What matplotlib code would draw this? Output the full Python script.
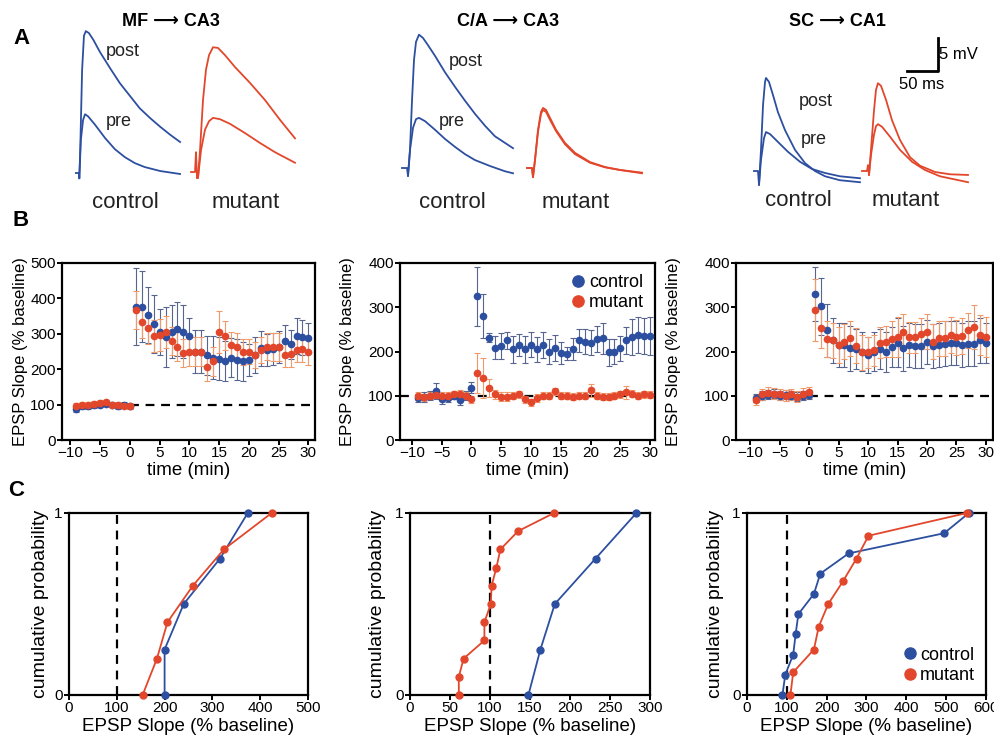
import matplotlib
matplotlib.use("Agg")
import matplotlib.pyplot as plt
import numpy as np

plt.rcParams['font.family'] = ['Liberation Sans', 'DejaVu Sans']

W, H = 995, 742
BLUE = '#2d4fa0'
RED = '#e2472c'
BLUE_ERR = '#56648f'
RED_ERR = '#f09a6a'

# ---- A: example traces (time in ms from stimulus, voltage in mV from baseline) ----
mf_ctrl_post_t = [-5, 0, 0.5, 2, 5, 8, 11, 16, 23, 34, 50, 66, 82, 98, 115, 131, 147, 163]
mf_ctrl_post_v = [0, 0, -0.8, 3.5, 15.6, 20.8, 21.5, 21.2, 20.2, 18.3, 15.9, 13.6, 11.7, 9.8, 8.3, 7.0, 5.8, 4.7]
mf_ctrl_pre_t = [0.5, 3, 6.5, 9.7, 14.5, 26, 42, 58, 74, 90, 106, 131, 163]
mf_ctrl_pre_v = [-0.8, 5.0, 8.0, 8.9, 8.6, 7.3, 5.3, 3.6, 2.4, 1.5, 0.9, 0.3, -0.15]
mf_mut_post_t = [-8, -1.6, 0, 1.6, 3.2, 6.5, 11.3, 16.1, 21, 27.4, 35.5, 46.8, 62.9, 87.1, 111.3, 135.5, 159.7]
mf_mut_post_v = [0, 0, 3.0, -0.9, -0.9, 3.3, 10.9, 15.5, 17.7, 18.9, 18.8, 17.7, 15.9, 13.5, 10.9, 7.9, 5.1]
mf_mut_pre_t = [1.6, 3.2, 8.1, 14.5, 21, 27.4, 38.7, 54.8, 79, 103.2, 127.4, 159.7]
mf_mut_pre_v = [-0.9, -0.9, 3.3, 6.4, 7.7, 8.2, 8.0, 7.3, 5.9, 4.4, 3.0, 1.4]

ca_ctrl_post_t = [-9.7, -1.6, 0, 3.2, 6.5, 9.7, 12.9, 17.7, 24.2, 32.3, 43.5, 59.7, 75.8, 91.9, 108.1, 124.2, 140.3, 156.5, 169.4]
ca_ctrl_post_v = [0, 0, -1.2, 2.7, 10.3, 16.4, 19.1, 20.2, 19.7, 18.6, 17.0, 14.5, 12.3, 10.2, 8.2, 6.4, 4.8, 3.8, 3.0]
ca_ctrl_pre_t = [0, 3.2, 8.1, 12.9, 17.7, 27.4, 43.5, 59.7, 75.8, 91.9, 108.1, 132.3, 156.5, 169.4]
ca_ctrl_pre_v = [-1.2, 2.7, 6.1, 7.4, 7.6, 7.1, 5.8, 4.4, 3.2, 2.1, 1.2, 0.3, -0.5, -0.8]
ca_mut_t = [-9.7, -1.6, 0, 3.2, 8.1, 12.9, 16.1, 21, 27.4, 37.1, 51.6, 67.7, 91.9, 116.1, 140.3, 175.8]
ca_mut_post_v = [0, 0, -1.4, 1.2, 5.8, 8.5, 9.1, 8.8, 7.6, 5.8, 3.8, 2.3, 0.9, 0.15, -0.3, -0.8]
ca_mut_pre_v = [0, 0, -1.4, 1.2, 5.5, 8.2, 8.8, 8.5, 7.3, 5.6, 3.6, 2.1, 0.8, 0.1, -0.3, -0.7]

sc_ctrl_post_t = [-8.1, -1.6, 0, 3.2, 6.5, 9.7, 11.3, 16.1, 22.6, 30.6, 41.9, 58.1, 74.2, 90.3, 106.5, 130.6, 162.9]
sc_ctrl_post_v = [0, 0, -2.1, 3.2, 10.0, 13.5, 14.1, 13.5, 11.5, 8.9, 6.2, 3.2, 1.2, 0, -0.8, -1.4, -1.7]
sc_ctrl_pre_t = [0, 3.2, 8.1, 11.3, 17.7, 30.6, 46.8, 66.1, 85.5, 106.5, 130.6, 162.9]
sc_ctrl_pre_v = [-2.1, 1.7, 5.0, 5.9, 5.6, 4.4, 2.9, 1.4, 0.3, -0.3, -0.8, -1.1]
sc_mut_post_t = [-9.7, -1.6, 0, 1.6, 4.8, 9.7, 12.9, 16.1, 21, 29, 38.7, 51.6, 67.7, 83.9, 108.1, 132.3, 161.3]
sc_mut_post_v = [0, 0, 0.9, -0.6, 3.2, 9.2, 12.3, 13.3, 12.9, 10.8, 7.7, 4.7, 2.1, 0.8, -0.15, -0.5, -0.6]
sc_mut_pre_t = [1.6, 4.8, 9.7, 12.9, 16.1, 22.6, 35.5, 51.6, 71, 91.9, 116.1, 161.3]
sc_mut_pre_v = [-0.6, 2.4, 5.5, 6.8, 7.1, 6.7, 5.2, 3.2, 1.4, 0.15, -0.8, -1.7]

# ---- B: time course (% baseline) ----
time_min = list(range(-9, 31))
b1_ctrl = [87, 95, 95, 98, 100, 103, 100, 96, 100, 95,
           377, 377, 353, 328, 306, 290, 306, 314, 306, 294, 250, 250, 240, 233, 230,
           223, 232, 227, 222, 227, 240, 259, 255, 258, 262, 280, 270, 294, 290, 288]
b1_ctrl_sem = [8] * 10 + [110, 100, 80, 83, 65, 85, 75, 76, 74, 50, 60, 60, 55, 62, 60,
                          57, 55, 58, 55, 45, 50, 50, 45, 45, 45, 45, 40, 51, 50, 42]
b1_mut = [97, 98, 100, 101, 104, 106, 100, 98, 97, 96,
          367, 334, 315, 294, 297, 305, 280, 264, 245, 250, 250, 250, 207, 222, 306,
          295, 268, 263, 248, 250, 240, 254, 263, 263, 263, 241, 242, 255, 256, 248]
b1_mut_sem = [8] * 10 + [53, 46, 45, 46, 45, 45, 40, 40, 40, 40, 40, 40, 40, 40, 59,
                         40, 38, 38, 36, 36, 36, 36, 38, 40, 40, 35, 35, 35, 35, 35]

b2_ctrl = [95, 97, 100, 110, 92, 95, 100, 90, 100, 118,
           325, 281, 231, 209, 212, 225, 205, 215, 205, 215, 205, 215, 200, 208, 197,
           195, 205, 225, 222, 220, 228, 230, 198, 200, 207, 225, 233, 237, 235, 235]
b2_ctrl_sem = [10, 12, 10, 18, 10, 10, 8, 10, 10, 12,
               67, 50, 10, 25, 30, 20, 30, 25, 30, 28, 28, 30, 28, 30, 25,
               15, 25, 25, 28, 28, 30, 35, 30, 28, 28, 30, 40, 40, 40, 42]
b2_mut = [100, 97, 100, 102, 100, 100, 103, 105, 100, 92,
          152, 140, 118, 103, 98, 98, 100, 103, 92, 85, 95, 100, 100, 110, 100,
          100, 98, 100, 100, 112, 100, 98, 98, 100, 103, 108, 105, 100, 103, 102]
b2_mut_sem = [8] * 10 + [45, 45, 20, 10, 10, 10, 8, 8, 8, 8, 8, 8, 8, 8, 8,
                         8, 8, 8, 8, 15, 8, 8, 8, 8, 8, 15, 8, 8, 8, 8]

b3_ctrl = [95, 100, 102, 105, 100, 102, 100, 98, 100, 102,
           330, 302, 248, 225, 215, 215, 207, 205, 200, 192, 200, 205, 198, 210, 220,
           207, 215, 213, 213, 222, 213, 215, 218, 220, 220, 215, 218, 218, 225, 220]
b3_ctrl_sem = [10] * 10 + [60, 65, 60, 50, 50, 50, 50, 45, 45, 40, 45, 45, 45, 45, 55,
                           50, 50, 50, 50, 50, 50, 50, 50, 50, 50, 50, 50, 50, 50, 45]
b3_mut = [90, 103, 107, 105, 103, 100, 103, 98, 105, 108,
          293, 253, 228, 225, 215, 222, 230, 213, 198, 198, 203, 220, 222, 228, 232,
          245, 232, 232, 240, 245, 222, 230, 230, 237, 232, 235, 248, 255, 238, 232]
b3_mut_sem = [12] * 10 + [70, 45, 40, 40, 40, 40, 40, 40, 40, 35, 35, 35, 35, 40, 45,
                          40, 35, 35, 35, 40, 40, 40, 40, 40, 40, 40, 40, 50, 45, 45]

# ---- C: cumulative distributions ----
c1_ctrl_x = [200, 200, 240, 316, 374]
c1_ctrl_p = [0, 0.25, 0.5, 0.75, 1]
c1_mut_x = [154, 184, 206, 259, 324, 424]
c1_mut_p = [0, 0.2, 0.4, 0.6, 0.8, 1]
c2_ctrl_x = [148, 163, 181, 232, 283]
c2_ctrl_p = [0, 0.25, 0.5, 0.75, 1]
c2_mut_x = [61, 61, 67, 93, 93, 101, 102, 108, 113, 135, 180]
c2_mut_p = [0, 0.1, 0.2, 0.3, 0.4, 0.5, 0.6, 0.7, 0.8, 0.9, 1]
c3_ctrl_x = [89, 96, 116, 122, 129, 168, 184, 255, 495, 557]
c3_ctrl_p = [0, 1/9, 2/9, 3/9, 4/9, 5/9, 6/9, 7/9, 8/9, 1]
c3_mut_x = [109, 116, 168, 180, 204, 241, 275, 305, 552]
c3_mut_p = [0, 1/8, 2/8, 3/8, 4/8, 5/8, 6/8, 7/8, 1]

fig = plt.figure(figsize=(W / 100, H / 100), dpi=100)

PX_MS = 0.62   # pixels per ms
PX_MV = 6.6    # pixels per mV


def px_axes(left, top, right, bottom):
    return fig.add_axes([left / W, 1 - bottom / H, (right - left) / W, (bottom - top) / H])


def trace_ax(x0, y0, w=200):
    # invisible axes; stimulus time sits at pixel x0, baseline at pixel y0
    ax = px_axes(x0 - 20, 0, x0 - 20 + w, y0 + 20)
    ax.set_xlim(-20 / PX_MS, (w - 20) / PX_MS)
    ax.set_ylim(-20 / PX_MV, y0 / PX_MV)
    ax.axis('off')
    return ax


def trace(ax, t, v, color):
    ax.plot(t, v, color=color, lw=1.3, clip_on=False)


ax = trace_ax(79, 173)
trace(ax, mf_ctrl_post_t, mf_ctrl_post_v, BLUE)
trace(ax, mf_ctrl_pre_t, mf_ctrl_pre_v, BLUE)
ax = trace_ax(196, 172)
trace(ax, mf_mut_post_t, mf_mut_post_v, RED)
trace(ax, mf_mut_pre_t, mf_mut_pre_v, RED)
ax = trace_ax(408, 168)
trace(ax, ca_ctrl_post_t, ca_ctrl_post_v, BLUE)
trace(ax, ca_ctrl_pre_t, ca_ctrl_pre_v, BLUE)
ax = trace_ax(533, 168)
trace(ax, ca_mut_t, ca_mut_post_v, RED)
trace(ax, ca_mut_t, ca_mut_pre_v, RED)
ax = trace_ax(759, 171)
trace(ax, sc_ctrl_post_t, sc_ctrl_post_v, BLUE)
trace(ax, sc_ctrl_pre_t, sc_ctrl_pre_v, BLUE)
ax = trace_ax(868, 171)
trace(ax, sc_mut_post_t, sc_mut_post_v, RED)
trace(ax, sc_mut_pre_t, sc_mut_pre_v, RED)

# scale bar
ax = trace_ax(907, 71, w=80)
ax.plot([0, 50, 50], [0, 0, 5], color='black', lw=2, clip_on=False)
ax.text(52, 2.5, '5 mV', fontsize=12, va='center', ha='left')
ax.text(24, -0.9, '50 ms', fontsize=12, va='top', ha='center')


def ftext(x, y, s, **kw):
    fig.text(x / W, 1 - y / H, s, ha='center', va='center', **kw)


ftext(171, 21, 'MF \u27f6 CA3', fontsize=13, fontweight='bold')
ftext(508, 21, 'C/A \u27f6 CA3', fontsize=13, fontweight='bold')
ftext(837, 21, 'SC \u27f6 CA1', fontsize=13, fontweight='bold')
ftext(22, 38, 'A', fontsize=16, fontweight='bold')
ftext(21, 220, 'B', fontsize=16, fontweight='bold')
ftext(16, 491, 'C', fontsize=16, fontweight='bold')

for x, y, s in [(123, 51, 'post'), (119, 122, 'pre'),
                (466, 61, 'post'), (452, 122, 'pre'),
                (816, 101, 'post'), (814, 139, 'pre')]:
    ftext(x, y, s, fontsize=13, color='#222222')
for x, s in [(125, 'control'), (246, 'mutant'), (452, 'control'), (576, 'mutant')]:
    ftext(x, 203, s, fontsize=16, color='#222222')
for x, s in [(798, 'control'), (906, 'mutant')]:
    ftext(x, 201, s, fontsize=16, color='#222222')


def style(ax):
    for sp in ax.spines.values():
        sp.set_linewidth(1.6)
    ax.tick_params(direction='out', length=3.5, width=1.4, labelsize=11, pad=1)


# ---- B panels ----
b_panels = [
    ((62, 315), (-11.4, 31.1), 500, b1_ctrl, b1_ctrl_sem, b1_mut, b1_mut_sem, 0, 20),
    ((400, 655), (-12.0, 30.8), 400, b2_ctrl, b2_ctrl_sem, b2_mut, b2_mut_sem, -12, 347),
    ((736, 993), (-12.4, 31.2), 400, b3_ctrl, b3_ctrl_sem, b3_mut, b3_mut_sem, 0, 673),
]
for i, ((l, r), xl, ymax, yc, ec, ym, em, dash0, ylab_x) in enumerate(b_panels):
    ax = px_axes(l, 263, r, 440)
    ax.axhline(100, xmin=(dash0 - xl[0]) / (xl[1] - xl[0]), color='black', lw=1.6,
               ls=(0, (4, 3)), zorder=1)
    ax.errorbar(time_min, yc, yerr=ec, fmt='o', color=BLUE, ms=4.5, ecolor=BLUE_ERR,
                elinewidth=0.8, capsize=2, capthick=0.8, zorder=3, label='control')
    ax.errorbar(time_min, ym, yerr=em, fmt='o', color=RED, ms=4.5, ecolor=RED_ERR,
                elinewidth=0.8, capsize=2, capthick=0.8, zorder=3, label='mutant')
    ax.set_xlim(*xl)
    ax.set_ylim(0, ymax)
    ax.set_xticks(range(-10, 31, 5))
    ax.set_yticks(range(0, ymax + 1, 100))
    style(ax)
    ax.set_xlabel('time (min)', fontsize=13.5)
    ax.xaxis.set_label_coords(0.5, -0.125)
    ax.set_ylabel('EPSP Slope (% baseline)', fontsize=12)
    ax.yaxis.set_label_coords((ylab_x + 8 - l) / (r - l), 0.5)
    if i == 1:
        h, lb = ax.get_legend_handles_labels()
        ax.legend([hh[0] for hh in h], lb, loc='upper right', frameon=False, fontsize=13,
                  markerscale=1.8, handletextpad=0.1, borderaxespad=0.2, labelspacing=0.2,
                  handlelength=1.0)

# ---- C panels ----
c_panels = [
    ((69, 308), 500, c1_ctrl_x, c1_ctrl_p, c1_mut_x, c1_mut_p, 39),
    ((410, 650), 300, c2_ctrl_x, c2_ctrl_p, c2_mut_x, c2_mut_p, 376),
    ((747, 986), 600, c3_ctrl_x, c3_ctrl_p, c3_mut_x, c3_mut_p, 714),
]
for i, ((l, r), xmax, xc, pc, xm, pm, ylab_x) in enumerate(c_panels):
    ax = px_axes(l, 513, r, 695)
    ax.axvline(100, color='black', lw=1.6, ls=(0, (4, 3)), zorder=1)
    ax.plot(xc, pc, '-o', color=BLUE, ms=5, lw=1.3, clip_on=False, zorder=3, label='control')
    ax.plot(xm, pm, '-o', color=RED, ms=5, lw=1.3, clip_on=False, zorder=3, label='mutant')
    ax.set_xlim(0, xmax)
    ax.set_ylim(0, 1)
    ax.set_xticks(range(0, xmax + 1, 100 if xmax != 300 else 50))
    ax.set_yticks([0, 1])
    style(ax)
    ax.set_xlabel('EPSP Slope (% baseline)', fontsize=13.5)
    ax.xaxis.set_label_coords(0.5, -0.125)
    ax.set_ylabel('cumulative probability', fontsize=14)
    ax.yaxis.set_label_coords((ylab_x + 10 - l) / (r - l), 0.5)
    if i == 2:
        ax.legend(loc='lower right', frameon=False, fontsize=13, markerscale=1.6,
                  handletextpad=0.1, borderaxespad=0.2, labelspacing=0.2, handlelength=0.9)
        for ln in ax.get_legend().get_lines():
            ln.set_linestyle('none')

fig.savefig('out.png', dpi=100)
